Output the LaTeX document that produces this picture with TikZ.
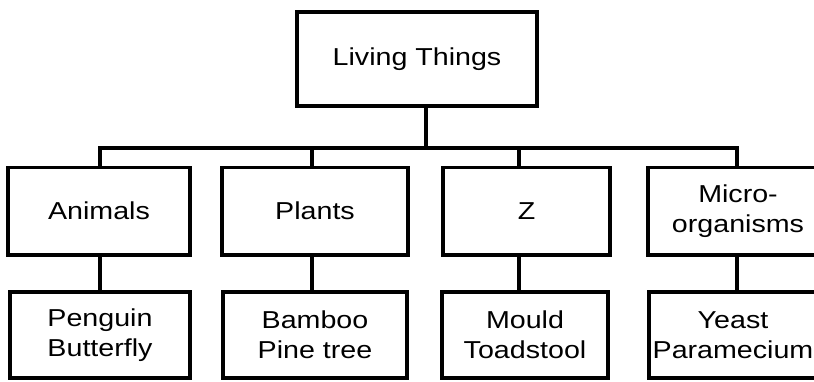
\documentclass[tikz,border=0pt]{standalone}
\usepackage{fontspec}
\setmainfont[FakeStretch=1.17]{Liberation Sans}
\begin{document}
\begin{tikzpicture}[x=0.025cm,y=0.025cm,
      box/.style={draw,line width=2.4pt,inner sep=0pt,align=center,
        font=\fontsize{17.4}{21.3}\selectfont},
      group/.style={box,minimum height=2.19cm},
      leaf/.style={box,minimum height=2.15cm},
      link/.style={line width=2.4pt,line cap=rect}]
   \useasboundingbox (0,0) rectangle (814,-381);
   \clip (0,0) rectangle (814,-381);
   \node[box,minimum width=6cm,minimum height=2.35cm] (living) at (417,-59) {Living Things};
   \node[group,minimum width=4.55cm] (animals) at (99,-211) {Animals};
   \node[group,minimum width=4.65cm] (plants) at (315,-211) {Plants};
   \node[group,minimum width=4.175cm] (z) at (526.5,-211) {Z};
   \node[group,minimum width=4.5cm] (micro) at (738,-211) {Micro-\\organisms};
   \node[leaf,minimum width=4.5cm] (penguin) at (100,-335) {Penguin\\Butterfly};
   \node[leaf,minimum width=4.6cm] (bamboo) at (315,-335) {Bamboo\\Pine tree};
   \node[leaf,minimum width=4.15cm] (mould) at (525,-335) {Mould\\Toadstool};
   \node[leaf,minimum width=4.2cm] (yeast) at (733,-335) {Yeast\\Paramecium};
   \coordinate (bus) at (426,-148);
   \coordinate (da) at (100,-148);
   \coordinate (dp) at (312,-148);
   \coordinate (dz) at (519,-148);
   \coordinate (dm) at (737,-148);
   \draw[link] (living.south -| bus) -- (bus);
   \draw[link] (da) -- (dm);
   \foreach \d/\a/\b in {da/animals/penguin,dp/plants/bamboo,dz/z/mould,dm/micro/yeast} {
      \draw[link] (\d) -- (\d |- \a.north);
      \draw[link] (\a.south -| \d) -- (\b.north -| \d);
   }
\end{tikzpicture}
\end{document}
